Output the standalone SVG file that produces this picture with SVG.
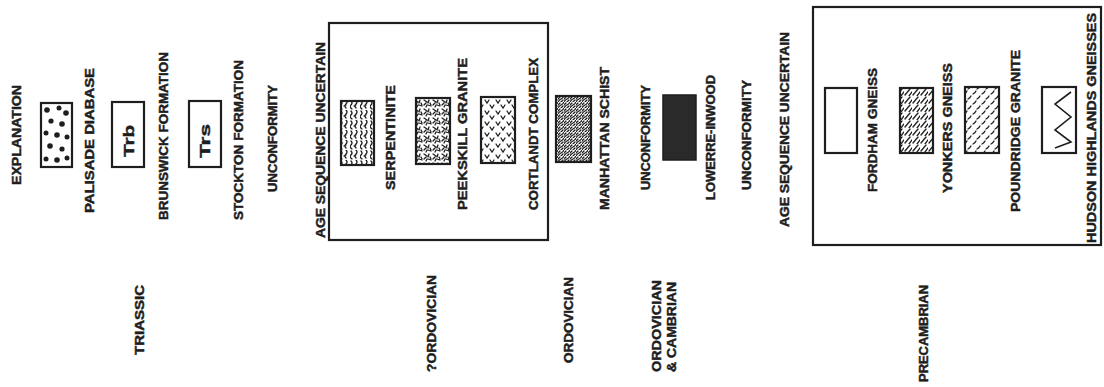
<svg xmlns="http://www.w3.org/2000/svg" width="1104" height="387" viewBox="0 0 1104 387">
<style>
.t{font-family:"Liberation Sans Narrow","Liberation Sans",Arial,sans-serif;font-weight:bold;font-size:12px;fill:#1e1e1e;stroke:#1e1e1e;stroke-width:0.45}
.big{font-size:15px}
.sw{fill:#fff;stroke:#1e1e1e;stroke-width:2.2}
.grp{fill:none;stroke:#1e1e1e;stroke-width:2.2}
.pat{fill:none;stroke:#1e1e1e;stroke-width:1.3;stroke-linecap:round}
</style>
<defs>
<pattern id="serp" width="10" height="10" patternUnits="userSpaceOnUse">
<path class="pat" d="M1 1 q2 2 0 4 q-2 2 1 4 M6 0 q2 2 0 4 q-2 2 0 4 M4 6 l2 -1"/>
</pattern>
<pattern id="peek" width="9" height="9" patternUnits="userSpaceOnUse">
<path class="pat" d="M1 1 l3 2 M6 1 l-1 3 M1 6 l2 -2 M5 6 l3 1 M3 8 l1 -2 M7 4 l1 2"/>
</pattern>
<pattern id="cort" width="11" height="11" patternUnits="userSpaceOnUse">
<path class="pat" d="M1 1 l2 3 l2 -3 M6 6 l2 3 l2 -3"/>
</pattern>
<pattern id="manh" width="6" height="6" patternUnits="userSpaceOnUse">
<path class="pat" d="M0 6 q1 -2 3 -3 q2 -1 3 -3 M0 3 q1 -1 2 -2 M3 6 q1 -1 2 -2"/>
</pattern>
<pattern id="yonk" width="8" height="8" patternUnits="userSpaceOnUse">
<path class="pat" stroke-width="1.8" d="M1 7 l5 -6 M5 8 l3 -4"/>
</pattern>
<pattern id="pound" width="9" height="10" patternUnits="userSpaceOnUse">
<path class="pat" stroke-width="1.7" d="M1 4 q2 -1 3 -3 M5 9 q2 -1 3 -3"/>
</pattern>
</defs>
<rect width="1104" height="387" fill="#fff"/>

<g id="frames">
<rect class="grp" x="329" y="23" width="219" height="217"/>
<rect class="grp" x="813" y="7" width="288" height="238"/>
</g>

<g id="connectors"></g>

<g id="explanation"><text class="t" transform="translate(21,185) rotate(-90)" textLength="100" lengthAdjust="spacingAndGlyphs">EXPLANATION</text></g>

<g id="palisade">
<rect class="sw" x="41" y="103" width="31" height="64"/>
<g fill="#1e1e1e">
<circle cx="47" cy="110" r="2.8"/><circle cx="59" cy="108" r="2.5"/><circle cx="66" cy="113" r="2.8"/>
<circle cx="51" cy="121" r="2.6"/><circle cx="62" cy="124" r="2.8"/><circle cx="46" cy="133" r="2.5"/>
<circle cx="57" cy="135" r="2.8"/><circle cx="67" cy="137" r="2.5"/><circle cx="50" cy="146" r="2.8"/>
<circle cx="62" cy="149" r="2.6"/><circle cx="46" cy="159" r="2.5"/><circle cx="57" cy="160" r="2.8"/><circle cx="67" cy="158" r="2.5"/>
</g>
<text class="t" transform="translate(94,213) rotate(-90)" textLength="145" lengthAdjust="spacingAndGlyphs">PALISADE DIABASE</text>
</g>

<g id="brunswick">
<rect class="sw" x="112" y="102" width="32" height="65"/>
<text class="t big" transform="translate(134,157) rotate(-90)" textLength="32" lengthAdjust="spacingAndGlyphs">Trb</text>
<text class="t" transform="translate(168,220) rotate(-90)" textLength="168" lengthAdjust="spacingAndGlyphs">BRUNSWICK FORMATION</text>
</g>

<g id="stockton">
<rect class="sw" x="189" y="101" width="32" height="66"/>
<text class="t big" transform="translate(210,158) rotate(-90)" textLength="34" lengthAdjust="spacingAndGlyphs">Trs</text>
<text class="t" transform="translate(243,220) rotate(-90)" textLength="160" lengthAdjust="spacingAndGlyphs">STOCKTON FORMATION</text>
</g>

<g id="unconformity1"><text class="t" transform="translate(277,192) rotate(-90)" textLength="107" lengthAdjust="spacingAndGlyphs">UNCONFORMITY</text></g>
<g id="age1"><text class="t" transform="translate(325,238) rotate(-90)" textLength="196" lengthAdjust="spacingAndGlyphs">AGE SEQUENCE UNCERTAIN</text></g>

<g id="serpentinite">
<rect class="sw" x="341" y="101" width="33" height="64" style="fill:url(#serp)"/>
<text class="t" transform="translate(395,190) rotate(-90)" textLength="105" lengthAdjust="spacingAndGlyphs">SERPENTINITE</text>
</g>

<g id="peekskill">
<rect class="sw" x="416" y="98" width="34" height="66" style="fill:url(#peek)"/>
<text class="t" transform="translate(467,210) rotate(-90)" textLength="152" lengthAdjust="spacingAndGlyphs">PEEKSKILL GRANITE</text>
</g>

<g id="cortlandt">
<rect class="sw" x="481" y="97" width="34" height="66" style="fill:url(#cort)"/>
<text class="t" transform="translate(538,210) rotate(-90)" textLength="152" lengthAdjust="spacingAndGlyphs">CORTLANDT COMPLEX</text>
</g>

<g id="manhattan">
<rect class="sw" x="556" y="96" width="35" height="66" style="fill:url(#manh)"/>
<text class="t" transform="translate(609,210) rotate(-90)" textLength="143" lengthAdjust="spacingAndGlyphs">MANHATTAN SCHIST</text>
</g>

<g id="unconformity2"><text class="t" transform="translate(650,190) rotate(-90)" textLength="105" lengthAdjust="spacingAndGlyphs">UNCONFORMITY</text></g>

<g id="lowerre">
<rect x="663" y="95" width="33" height="65" fill="#2a2a2a" stroke="#1e1e1e" stroke-width="1.5"/>
<text class="t" transform="translate(715,200) rotate(-90)" textLength="125" lengthAdjust="spacingAndGlyphs">LOWERRE-INWOOD</text>
</g>

<g id="unconformity3"><text class="t" transform="translate(751,190) rotate(-90)" textLength="110" lengthAdjust="spacingAndGlyphs">UNCONFORMITY</text></g>
<g id="age2"><text class="t" transform="translate(789,227) rotate(-90)" textLength="195" lengthAdjust="spacingAndGlyphs">AGE SEQUENCE UNCERTAIN</text></g>

<g id="fordham">
<rect class="sw" x="825" y="88" width="32" height="65"/>
<text class="t" transform="translate(877,192) rotate(-90)" textLength="124" lengthAdjust="spacingAndGlyphs">FORDHAM GNEISS</text>
</g>

<g id="yonkers">
<rect class="sw" x="900" y="88" width="33" height="65" style="fill:url(#yonk)"/>
<text class="t" transform="translate(952,193) rotate(-90)" textLength="130" lengthAdjust="spacingAndGlyphs">YONKERS GNEISS</text>
</g>

<g id="poundridge">
<rect class="sw" x="965" y="87" width="34" height="66" style="fill:url(#pound)"/>
<text class="t" transform="translate(1020,212) rotate(-90)" textLength="162" lengthAdjust="spacingAndGlyphs">POUNDRIDGE GRANITE</text>
</g>

<g id="hudson">
<rect class="sw" x="1042" y="87" width="34" height="66"/>
<polyline points="1071,92 1055,104 1071,117 1055,130 1071,142 1055,148" fill="none" stroke="#1e1e1e" stroke-width="1.6"/>
<text class="t" transform="translate(1096,243) rotate(-90)" textLength="230" lengthAdjust="spacingAndGlyphs">HUDSON HIGHLANDS GNEISSES</text>
</g>

<g id="ages">
<text class="t" transform="translate(144,355) rotate(-90)" textLength="70" lengthAdjust="spacingAndGlyphs">TRIASSIC</text>
<text class="t" transform="translate(436,372) rotate(-90)" textLength="97" lengthAdjust="spacingAndGlyphs">?ORDOVICIAN</text>
<text class="t" transform="translate(573,363) rotate(-90)" textLength="86" lengthAdjust="spacingAndGlyphs">ORDOVICIAN</text>
<text class="t" transform="translate(661,372) rotate(-90)" textLength="92" lengthAdjust="spacingAndGlyphs">ORDOVICIAN</text>
<text class="t" transform="translate(676,372) rotate(-90)" textLength="90" lengthAdjust="spacingAndGlyphs">&amp; CAMBRIAN</text>
<text class="t" transform="translate(928,382) rotate(-90)" textLength="97" lengthAdjust="spacingAndGlyphs">PRECAMBRIAN</text>
</g>
</svg>
